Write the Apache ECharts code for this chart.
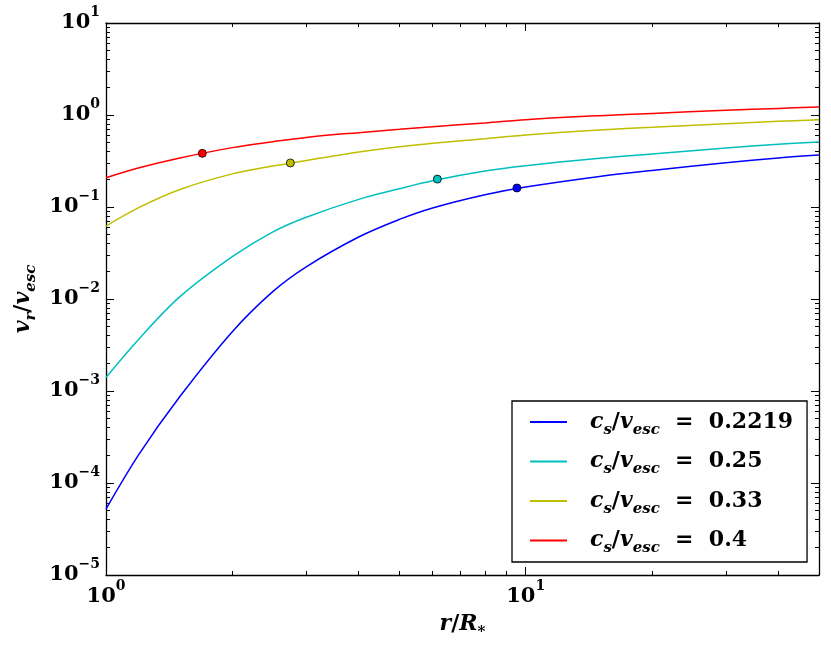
<!DOCTYPE html>
<html>
<head>
<meta charset="utf-8">
<script src="https://cdn.jsdelivr.net/npm/echarts@6/dist/echarts.min.js"></script>
<style>
html,body{margin:0;padding:0;background:#fff;}
#chart{width:831px;height:650px;}
</style>
</head>
<body>
<div id="chart"></div>
<script>
// ---- data ----
const rValues = [1, 1.2, 1.5, 2, 2.5, 3, 4, 5, 6, 8, 10, 15, 20, 30, 40, 50];
const v2219 = [5.2e-5, 2.07e-4, 8.7e-4, 0.00441, 0.0121, 0.0224, 0.0472, 0.0733, 0.0977, 0.136, 0.165, 0.215, 0.25, 0.303, 0.341, 0.367];
const v025  = [0.0014, 0.0037, 0.0106, 0.0289, 0.0537, 0.0774, 0.121, 0.158, 0.193, 0.246, 0.281, 0.338, 0.376, 0.438, 0.48, 0.509];
const v033  = [0.0621, 0.099, 0.155, 0.229, 0.279, 0.320, 0.396, 0.453, 0.492, 0.553, 0.607, 0.687, 0.735, 0.805, 0.853, 0.889];
const v04   = [0.208, 0.267, 0.341, 0.442, 0.513, 0.571, 0.643, 0.698, 0.746, 0.819, 0.889, 0.983, 1.04, 1.125, 1.18, 1.22];
const seriesLabels = ['0.2219', '0.25', '0.33', '0.4'];
const markerR = [9.53, 6.16, 2.75, 1.696];
const markerV = [0.161, 0.201, 0.301, 0.383];
const xMajorTicks = [1, 10];
const xMinorTicks = [2, 3, 4, 5, 6, 7, 8, 9, 20, 30, 40, 50];
const yMajorTicks = [1e-5, 1e-4, 1e-3, 1e-2, 1e-1, 1, 10];
const yMinorTicks = [];
for (let e = -5; e < 1; e++) for (let m = 2; m <= 9; m++) yMinorTicks.push(m * Math.pow(10, e));

const colors = ['#0000ff', '#00bfbf', '#bfbf00', '#ff0000'];
const curves = [v2219, v025, v033, v04];

const FONT = 'DejaVu Serif';
const rich = {
  i: {fontFamily: FONT, fontStyle: 'italic', fontWeight: 'bold', fontSize: 22, color: '#000', verticalAlign: 'middle'},
  n: {fontFamily: FONT, fontWeight: 'bold', fontSize: 22, color: '#000', verticalAlign: 'middle'},
  sub: {fontFamily: FONT, fontStyle: 'italic', fontWeight: 'bold', fontSize: 15, color: '#000', padding: [16, 0, 0, 0], verticalAlign: 'middle'},
  b: {fontFamily: FONT, fontWeight: 'bold', fontSize: 21, color: '#000', verticalAlign: 'middle'},
  sup: {fontFamily: FONT, fontWeight: 'bold', fontSize: 14, color: '#000', padding: [0, 0, 22, 0], verticalAlign: 'middle'}
};

function powLabel(v) {
  const e = Math.round(Math.log10(v));
  return '{b|10}{sup|' + (e < 0 ? '\u2212' + (-e) : e) + '}';
}

const lineStyleAxis = {color: '#000', width: 1.3};
function mkX(pos, minor, showLine, showLabel) {
  return {
    type: 'log', logBase: 10, min: 1, max: 50, position: pos,
    splitLine: {show: false},
    axisLine: {show: showLine, lineStyle: lineStyleAxis},
    axisTick: {show: true, inside: true, length: minor ? 4 : 8, lineStyle: {color: '#000', width: 1},
      customValues: minor ? xMinorTicks : xMajorTicks},
    axisLabel: showLabel ? {show: true, customValues: xMajorTicks, formatter: powLabel, rich: rich, margin: 4} : {show: false},
    minorTick: {show: false}
  };
}
function mkY(pos, minor, showLine, showLabel) {
  return {
    type: 'log', logBase: 10, min: 1e-5, max: 10, position: pos,
    splitLine: {show: false},
    axisLine: {show: showLine, lineStyle: lineStyleAxis},
    axisTick: {show: true, inside: true, length: minor ? 4 : 8, lineStyle: {color: '#000', width: 1},
      customValues: minor ? yMinorTicks : yMajorTicks},
    axisLabel: showLabel ? {show: true, customValues: yMajorTicks, formatter: powLabel, rich: rich, margin: 6} : {show: false},
    minorTick: {show: false}
  };
}

const xAxes = [mkX('bottom', false, true, true), mkX('bottom', true, false, false), mkX('top', false, true, false), mkX('top', true, false, false)];
xAxes[0].name = '{i|r}{n|/}{i|R}{sub|*}';
xAxes[0].nameLocation = 'middle';
xAxes[0].nameGap = 34;
xAxes[0].nameTextStyle = {rich: rich};
const yAxes = [mkY('left', false, true, true), mkY('left', true, false, false), mkY('right', false, true, false), mkY('right', true, false, false)];
yAxes[0].name = '{i|v}{sub|r}{n|/}{i|v}{sub|esc}';
yAxes[0].nameLocation = 'middle';
yAxes[0].nameGap = 64;
yAxes[0].nameTextStyle = {rich: rich};

const series = [];
curves.forEach((vals, k) => {
  series.push({
    name: seriesLabels[k], type: 'line', xAxisIndex: 0, yAxisIndex: 0,
    data: rValues.map((r, i) => [r, vals[i]]),
    smooth: 0.35, showSymbol: false, symbol: 'none',
    lineStyle: {color: colors[k], width: 1.5},
    itemStyle: {color: colors[k]}, z: 2
  });
});
markerR.forEach((r, k) => {
  series.push({
    name: 'pt' + k, type: 'scatter', xAxisIndex: 0, yAxisIndex: 0,
    data: [[r, markerV[k]]], symbolSize: 8,
    itemStyle: {color: colors[k], borderColor: '#000', borderWidth: 0.8, opacity: 1}, z: 5
  });
});

const chart = echarts.init(document.getElementById('chart'), null, {renderer: 'canvas'});
chart.setOption({
  animation: false,
  backgroundColor: '#fff',
  grid: {left: 106, top: 23, right: 12, bottom: 75, containLabel: false, outerBoundsMode: 'none'},
  xAxis: xAxes,
  yAxis: yAxes,
  legend: {
    data: seriesLabels,
    orient: 'vertical', left: 512, top: 401,
    padding: [7, 14, 6, 18],
    itemWidth: 37, itemHeight: 2, itemGap: 10,
    icon: 'rect',
    borderColor: '#000', borderWidth: 1.3, backgroundColor: '#fff',
    formatter: function (name) { return '{i|c}{sub|s}{n|/}{i|v}{sub|esc}{n|  =  ' + name + '}'; },
    textStyle: {rich: rich, padding: [0, 0, 0, 18], lineHeight: 28},
    selectedMode: false
  },
  series: series
});
</script>
</body>
</html>
